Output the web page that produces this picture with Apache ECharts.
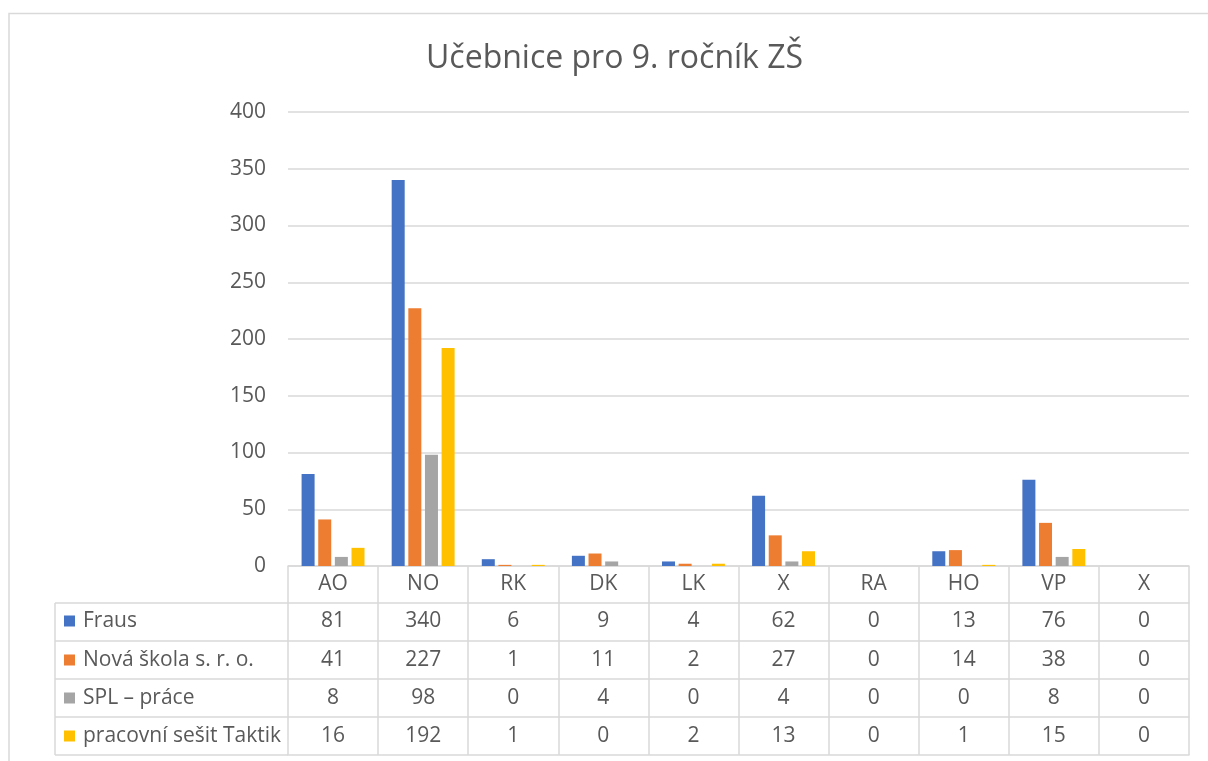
<!DOCTYPE html>
<html>
<head>
<meta charset="utf-8">
<script src="https://cdn.jsdelivr.net/npm/echarts@6/dist/echarts.min.js"></script>
<style>
html,body{margin:0;padding:0;background:#fff;}
#chart{width:1208px;height:761px;}
</style>
</head>
<body>
<div id="chart"></div>
<script>
const title = 'Učebnice pro 9. ročník ZŠ';
const categories = ['AO', 'NO', 'RK', 'DK', 'LK', 'X', 'RA', 'HO', 'VP', 'X'];
const seriesNames = ['Fraus', 'Nová škola s. r. o.', 'SPL – práce', 'pracovní sešit Taktik'];
const fraus = [81, 340, 6, 9, 4, 62, 0, 13, 76, 0];
const novaSkola = [41, 227, 1, 11, 2, 27, 0, 14, 38, 0];
const splPrace = [8, 98, 0, 4, 0, 4, 0, 0, 8, 0];
const taktik = [16, 192, 1, 0, 2, 13, 0, 1, 15, 0];
const yTicks = [0, 50, 100, 150, 200, 250, 300, 350, 400];

const seriesValues = [fraus, novaSkola, splPrace, taktik];
const colors = ['#4472C4', '#ED7D31', '#A5A5A5', '#FFC000'];
const FONT = '"Open Sans", Lato, sans-serif';
const TXT = '#595959';
const LINE = '#d9d9d9';
const FS = 21;

const gridLeft = 288, gridRight = 1189, gridBottomY = 566;
const rowTops = [603, 641, 679, 717, 755];
const rowCenters = [621, 660, 698, 736];

const chart = echarts.init(document.getElementById('chart'), null, {renderer: 'canvas'});

const xAxes = [{
  type: 'category',
  data: categories,
  gridIndex: 0,
  position: 'bottom',
  axisLine: {show: true, lineStyle: {color: LINE, width: 1.5}},
  axisTick: {show: true, interval: 0, length: rowTops[4] - gridBottomY, lineStyle: {color: LINE, width: 1.5}},
  axisLabel: {interval: 0, fontSize: FS, color: TXT, fontFamily: FONT, margin: 18, verticalAlign: 'middle'}
}];
seriesValues.forEach((vals, i) => {
  xAxes.push({
    type: 'category',
    data: vals.map(String),
    gridIndex: 0,
    position: 'bottom',
    offset: rowTops[i] - gridBottomY,
    axisLine: {show: true, lineStyle: {color: LINE, width: 1.5}},
    axisTick: {show: false},
    axisLabel: {interval: 0, fontSize: FS, color: TXT, fontFamily: FONT, margin: rowCenters[i] - rowTops[i], verticalAlign: 'middle'}
  });
});
xAxes.push({
  type: 'category',
  data: categories,
  gridIndex: 0,
  position: 'bottom',
  offset: rowTops[4] - gridBottomY,
  axisLine: {show: true, lineStyle: {color: LINE, width: 1.5}},
  axisTick: {show: false},
  axisLabel: {show: false}
});

const legends = seriesNames.map((n, i) => ({
  data: [n],
  orient: 'vertical',
  left: 64,
  top: rowCenters[i] - 11,
  padding: 0,
  itemWidth: 11,
  itemHeight: 11,
  icon: 'rect',
  textStyle: {fontSize: FS, color: TXT, fontFamily: FONT, lineHeight: 22, padding: [0, 0, 0, 3]}
}));

const graphics = [
  {type: 'rect', shape: {x: 9, y: 13.5, width: 1400, height: 1000}, style: {fill: null, stroke: LINE, lineWidth: 1.5}, z: -10, silent: true},
  {type: 'line', shape: {x1: 55, y1: rowTops[0], x2: 55, y2: rowTops[4]}, style: {stroke: LINE, lineWidth: 1.5}, silent: true}
];
rowTops.forEach(y => graphics.push({type: 'line', shape: {x1: 55, y1: y, x2: gridLeft, y2: y}, style: {stroke: LINE, lineWidth: 1.5}, silent: true}));

const option = {
  backgroundColor: '#fff',
  animation: false,
  color: colors,
  title: {
    text: title,
    left: 426,
    top: 43,
    padding: 0,
    textStyle: {fontSize: 32, fontWeight: 'normal', color: TXT, fontFamily: FONT}
  },
  legend: legends,
  grid: {left: gridLeft, right: 1208 - gridRight, top: 112, bottom: 761 - gridBottomY, containLabel: false},
  xAxis: xAxes,
  yAxis: {
    type: 'value',
    min: yTicks[0],
    max: yTicks[yTicks.length - 1],
    interval: yTicks[1] - yTicks[0],
    axisLine: {show: false},
    axisTick: {show: false},
    axisLabel: {fontSize: FS, color: TXT, fontFamily: FONT, margin: 22},
    splitLine: {lineStyle: {color: LINE, width: 1.5}}
  },
  graphic: graphics,
  series: seriesNames.map((n, i) => ({
    name: n,
    type: 'bar',
    xAxisIndex: 0,
    data: seriesValues[i],
    barWidth: 13,
    barGap: '28%',
    itemStyle: {color: colors[i]}
  }))
};
chart.setOption(option);
</script>
</body>
</html>
